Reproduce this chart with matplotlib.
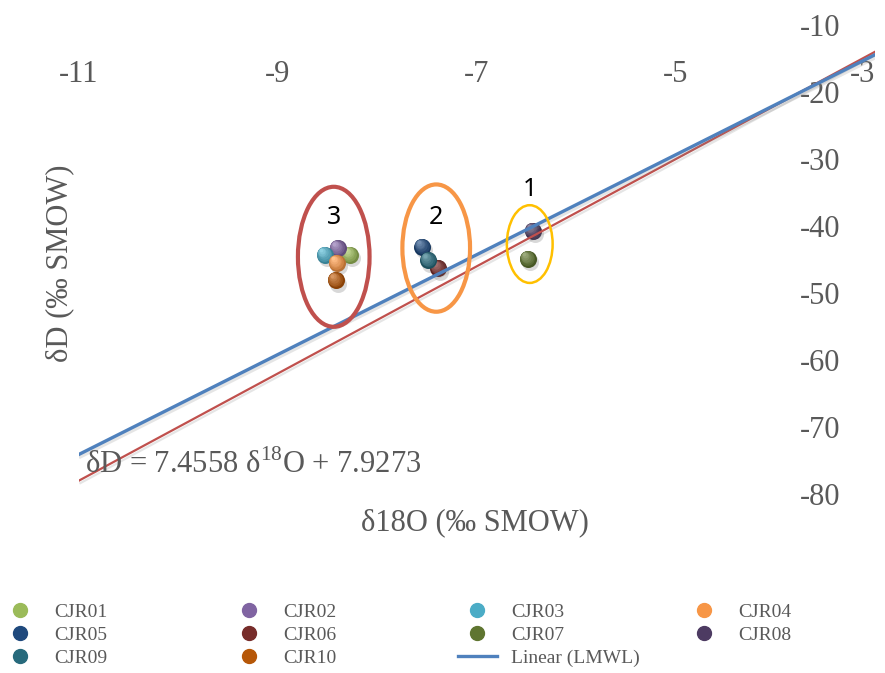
import matplotlib
matplotlib.use("Agg")
import matplotlib.pyplot as plt
import matplotlib.patheffects as pe
import matplotlib.transforms as mtransforms
import matplotlib.colors as mcolors
from matplotlib.patches import Ellipse
from matplotlib.lines import Line2D
import numpy as np

plt.rcParams['font.family'] = ['Liberation Serif', 'DejaVu Serif']
plt.rcParams['mathtext.fontset'] = 'custom'
plt.rcParams['mathtext.rm'] = 'Liberation Serif'
plt.rcParams['axes.unicode_minus'] = False

# sample data
samples = ['CJR01', 'CJR02', 'CJR03', 'CJR04', 'CJR05',
           'CJR06', 'CJR07', 'CJR08', 'CJR09', 'CJR10']
d18O = [-8.28, -8.40, -8.53, -8.41, -7.55, -7.39, -6.49, -6.44, -7.49, -8.42]
dD = [-44.3, -43.3, -44.3, -45.5, -43.1, -46.3, -44.9, -40.7, -45.1, -48.1]
colors = ['#9BBB59', '#8064A2', '#4BACC6', '#F79646', '#1F497D',
          '#772C2A', '#5F7530', '#4D3B62', '#276A7C', '#B65708']

# meteoric water lines
lmwl = (7.4558, 7.9273)
gmwl = (8.0, 10.0)
line_x = [-11, -3]

# cluster groups: label, center x, center y, width, height, colour
groups = ['1', '2', '3']
grp_x = [-6.47, -7.41, -8.44]
grp_y = [-42.7, -43.3, -44.6]
grp_w = [0.46, 0.68, 0.72]
grp_h = [11.6, 19.0, 20.9]
grp_col = ['#FFC000', '#F79646', '#C0504D']
grp_lw = [1.8, 3.0, 3.0]
grp_lab_y = [-34.6, -38.7, -38.7]

xticks = [-11, -9, -7, -5, -3]
yticks = [-80, -70, -60, -50, -40, -30, -20, -10]

gray = '#595959'

fig = plt.figure(figsize=(8.85, 6.73), dpi=100)
ax = fig.add_axes([0.0893, 0.266, 0.8994, 0.6969])
ax.set_xlim(-11, -3)
ax.set_ylim(-80, -10)
for s in ax.spines.values():
    s.set_visible(False)

ax.set_xticks(xticks)
ax.set_yticks(yticks)
ax.tick_params(axis='x', length=0, bottom=False, top=False,
               labelbottom=False, labeltop=True, pad=-46,
               labelsize=22, labelcolor=gray)
ax.tick_params(axis='y', length=0, left=False, right=False,
               labelleft=False, labelright=True, pad=-54,
               labelsize=22, labelcolor=gray)
# last x label sits against the right edge
ax.get_xticklabels()[-1].set_ha('right')


def shifted(dx, dy):
    return ax.transData + mtransforms.ScaledTranslation(dx / 72, dy / 72, fig.dpi_scale_trans)


# shaded "3D" spheres
base = 150
for x, y, c in zip(d18O, dD, colors):
    rgb = np.array(mcolors.to_rgb(c))
    ax.scatter([x], [y], s=base, color='gray', alpha=0.3, lw=0,
               transform=shifted(1.5, -2.5), zorder=2)
    ax.scatter([x], [y], s=base, color=rgb * 0.75, lw=0, zorder=3)
    for i in range(1, 7):
        f = 1 - i * 0.13
        col = rgb * (0.8 + i * 0.04) + (1 - rgb) * i * 0.06
        ax.scatter([x], [y], s=base * f * f, color=np.clip(col, 0, 1), lw=0,
                   transform=shifted(-i * 0.45, i * 0.55), zorder=3)

# trend lines with soft shadow
shadow = [pe.SimpleLineShadow(offset=(1.0, -1.8), shadow_color='gray', alpha=0.2), pe.Normal()]
xl = np.array(line_x)
ax.plot(xl, gmwl[0] * xl + gmwl[1], color='#C0504D', lw=1.6, path_effects=shadow, zorder=5)
ax.plot(xl, lmwl[0] * xl + lmwl[1], color='#4F81BD', lw=2.4, path_effects=shadow, zorder=6)

# cluster ellipses and labels
for g, cx, cy, w, h, c, lw, ly in zip(groups, grp_x, grp_y, grp_w, grp_h, grp_col, grp_lw, grp_lab_y):
    ax.add_patch(Ellipse((cx, cy), w, h, fill=False, ec=c, lw=lw, zorder=7))
    ax.text(cx, ly, g, ha='center', va='center', fontsize=18,
            family=['Noto Sans', 'DejaVu Sans'], color='black', zorder=8)

ax.text(0.0075, 0.062, r'δD = 7.4558 δ$^{18}$O + 7.9273', transform=ax.transAxes,
        ha='left', va='center', fontsize=22, color=gray, zorder=8)

ax.set_xlabel('δ18O (‰ SMOW)', fontsize=22, color=gray)
ax.xaxis.set_label_position('bottom')
ax.xaxis.set_label_coords(0.4975, -0.03)
ax.set_ylabel('δD (‰ SMOW)', fontsize=22, color=gray)
ax.yaxis.set_label_position('left')
ax.yaxis.set_label_coords(-0.024, 0.4925)
ax.yaxis.label.set_va('center')
ax.xaxis.label.set_va('top')

# legend in four columns, filled row by row
handles = [Line2D([], [], ls='none', marker='o', ms=10, mfc=c, mec=c) for c in colors]
handles.append(Line2D([], [], color='#4F81BD', lw=2.4))
labels = samples + ['Linear (LMWL)']
col_x = [1, 230, 458, 685]
for j in range(4):
    idx = list(range(j, len(labels), 4))
    leg = fig.legend([handles[i] for i in idx], [labels[i] for i in idx],
                     loc='upper left', bbox_to_anchor=(col_x[j] / 885, 1 - 603 / 673),
                     frameon=False, fontsize=14, labelspacing=0.28,
                     handlelength=2.0, handletextpad=0.75, borderpad=0, borderaxespad=0)
    for t in leg.get_texts():
        t.set_color(gray)

fig.savefig('out.png', dpi=100)
